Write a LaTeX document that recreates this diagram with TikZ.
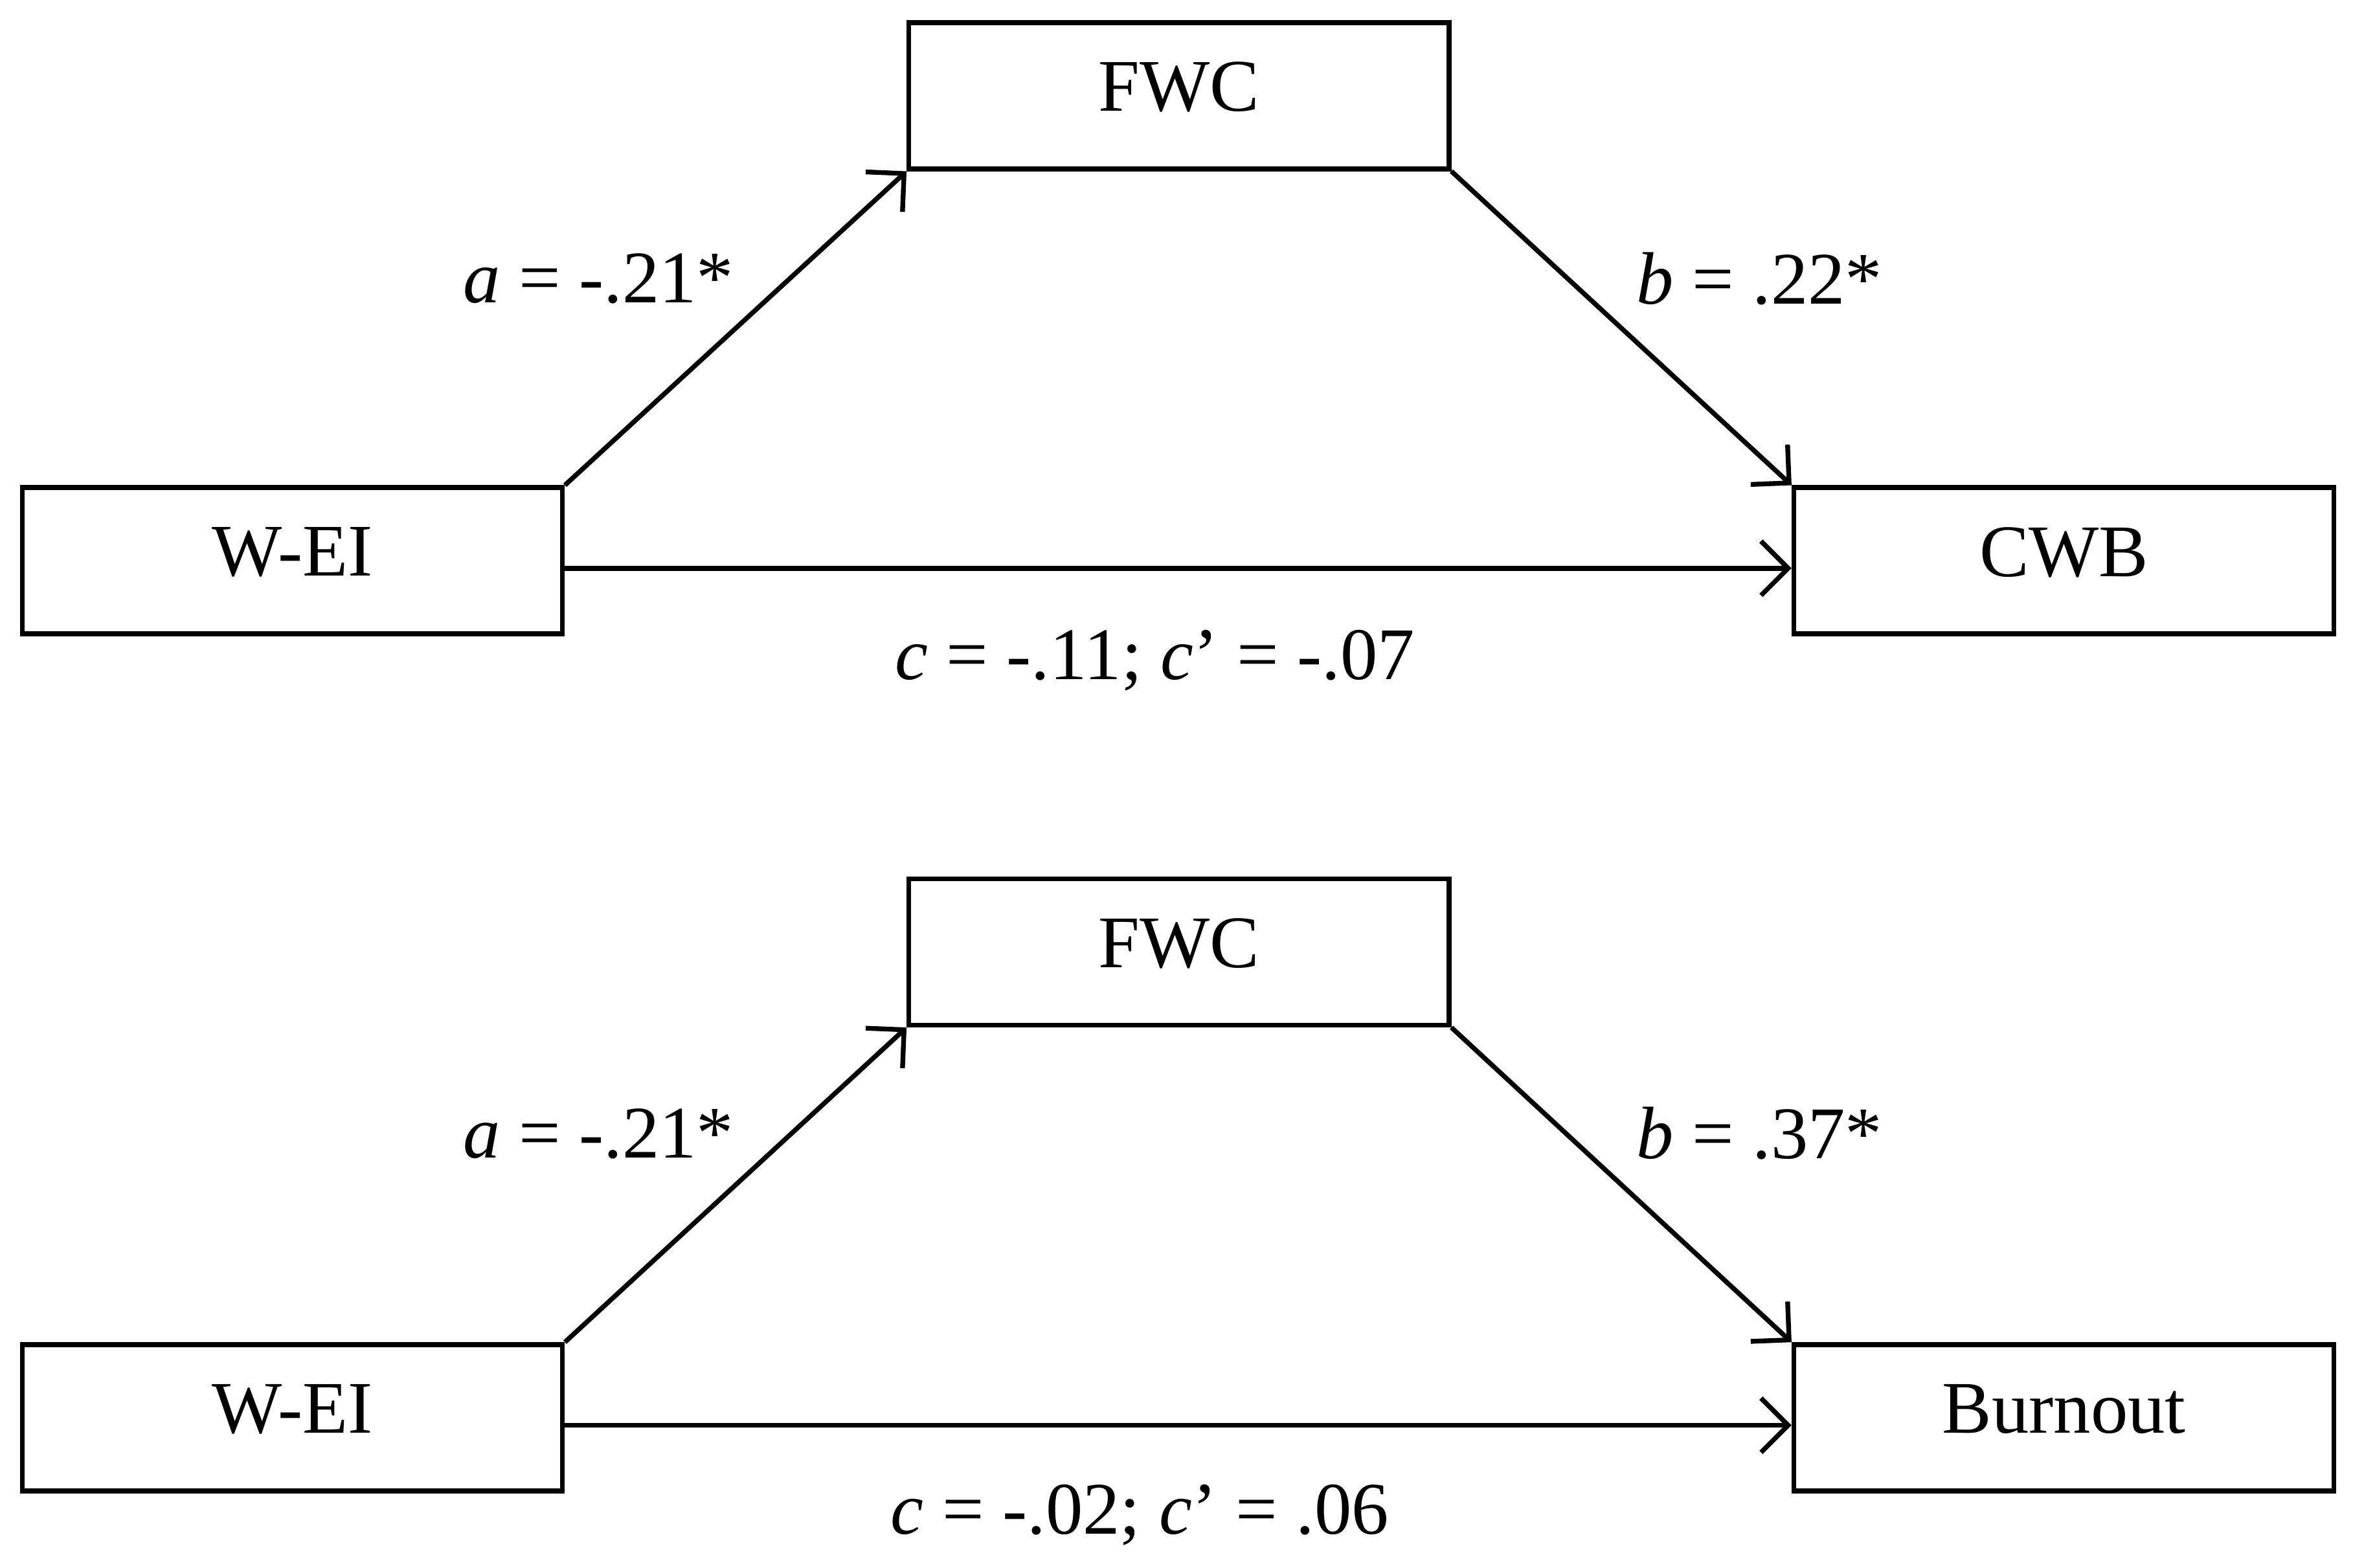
\documentclass[tikz,border=0pt]{standalone}
\usepackage{fontspec}
\setmainfont{Liberation Serif}
\usetikzlibrary{positioning,arrows.meta}
\tikzset{
  var/.style={draw, line width=0.9pt, minimum width=3.58cm, minimum height=0.97cm, inner sep=0pt, text depth=0.12cm, font=\fontsize{14}{16}\selectfont},
  path/.style={line width=0.9pt, -{Straight Barb[length=1.8mm,width=3.6mm,line width=0.9pt]}},
  coef/.style={font=\fontsize{14}{16}\selectfont}
}
\begin{document}
\begin{tikzpicture}[x=0.01cm, y=-0.01cm]
\useasboundingbox (0,0) rectangle (1568,1040);
% upper model
\node[var] (fwc1) at (782,63.5) {FWC};
\node[var] (wei1) at (194,372) {W-EI};
\node[var] (cwb) at (1369,372) {CWB};
\draw[path] (wei1.north east) -- (fwc1.south west);
\draw[path] (fwc1.south east) -- (cwb.north west);
\draw[path] ([yshift=-0.05cm]wei1.east) -- ([yshift=-0.05cm]cwb.west);
\node[coef] (a1) at (397,185) {\textit{a} = -.21*};
\node[coef] (b1) at (1167,185) {\textit{b} = .22*};
\node[coef] (c1) at (766,438) {\textit{c} = -.11; \textit{c}’ = -.07};
% lower model
\node[var] (fwc2) at (782,631.5) {FWC};
\node[var] (wei2) at (194,940.5) {W-EI};
\node[var] (burn) at (1369,940.5) {Burnout};
\draw[path] (wei2.north east) -- (fwc2.south west);
\draw[path] (fwc2.south east) -- (burn.north west);
\draw[path] ([yshift=-0.05cm]wei2.east) -- ([yshift=-0.05cm]burn.west);
\node[coef] (a2) at (397,752) {\textit{a} = -.21*};
\node[coef] (b2) at (1167,752) {\textit{b} = .37*};
\node[coef] (c2) at (756,1005) {\textit{c} = -.02; \textit{c}’ = .06};
\end{tikzpicture}
\end{document}
